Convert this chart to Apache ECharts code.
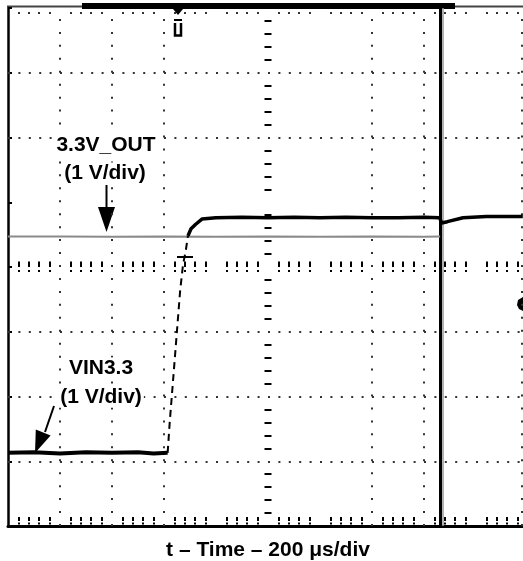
<!DOCTYPE html>
<html><head><meta charset="utf-8">
<script src="https://cdn.jsdelivr.net/npm/echarts@6/dist/echarts.min.js"></script>
<style>html,body{margin:0;padding:0;background:#fff}#c{width:523px;height:561px}</style>
</head><body><div id="c"></div>
<script>
// Time in divisions from screen centre (200 us/div), voltage in divisions from centre (1 V/div)
const vinLow  = [[-5,-2.87],[-4.5,-2.86],[-4,-2.88],[-3.5,-2.86],[-3,-2.87],[-2.5,-2.86],[-2.2,-2.88],[-1.93,-2.87]];
const vinEdge = [[-1.93,-2.87],[-1.89,-2.4],[-1.79,-1.39],[-1.69,-0.37],[-1.635,0.03],[-1.58,0.26],[-1.54,0.48]];
const vinHigh = [[-1.54,0.48],[-1.48,0.59],[-1.39,0.66],[-1.27,0.74],[-1.0,0.76],[-0.5,0.77],[0,0.76],[0.5,0.77],[1.0,0.76],[1.5,0.77],[2.0,0.76],[2.5,0.76],[3.0,0.77],[3.3,0.76],[3.34,0.68],[3.45,0.70],[3.75,0.76],[4.2,0.78],[4.9,0.78]];
const out33   = [[-5,0.47],[-4,0.47],[-3,0.468],[-2,0.47],[-1,0.468],[0,0.47],[1,0.468],[2,0.47],[3,0.468],[3.31,0.47]];
const gridCols = [-4,-3,-2,2,3,4.88];
const gridRows = [-3,-2,-1,2,3];
const cursorT = 3.31;
const xRange = {min:-5, max:5, interval:1};
const yRange = {min:-4, max:4, interval:1};
const xTitle = 't \u2013 Time \u2013 200 \u03BCs/div';
const outLabel = ['3.3V_OUT','(1 V/div)'];
const vinLabel = ['VIN3.3','(1 V/div)'];

const FONT = '"Liberation Sans", Arial, Helvetica, sans-serif';
const chart = echarts.init(document.getElementById('c'), null, {renderer:'canvas'});

function centreX(pos, dash){
  return Object.assign({type:'value', position:pos, splitLine:{show:false}, axisLabel:{show:false},
    axisLine:{show:false, onZero:true, onZeroAxisIndex:0}, axisTick:{show:false},
    minorTick:{show:true, splitNumber:5, length:5.5, lineStyle:{color:'#000', width:2, type:dash}}}, xRange);
}
function centreY(pos){
  return Object.assign({type:'value', position:pos, splitLine:{show:false}, axisLabel:{show:false},
    axisLine:{show:false, onZero:true, onZeroAxisIndex:0}, axisTick:{show:false},
    minorTick:{show:true, splitNumber:5, length:3.5, lineStyle:{color:'#000', width:2}}}, yRange);
}

const markData = [];
gridCols.forEach(v => markData.push({xAxis:v, lineStyle:{color:'#333', width:2, type:[2,10.95]}}));
gridRows.forEach(v => markData.push({yAxis:v, lineStyle:{color:'#333', width:2, type:[2,8.4]}}));
markData.push({xAxis:cursorT, lineStyle:{color:'#000', width:3, type:'solid'}});
markData.push({xAxis:cursorT+0.055, lineStyle:{color:'#999', width:1.5, type:'solid'}});

const labelStyle = t => ({text:t, font:'bold 21px '+FONT, fill:'#000', align:'center', verticalAlign:'middle',
  backgroundColor:'#fff', padding:[0,2]});

const option = {
  animation:false,
  backgroundColor:'#fff',
  grid:{left:8, top:8, width:520, height:518, outerBoundsMode:'none', containLabel:false},
  xAxis:[
    centreX('bottom', [0,3,2,10]),
    centreX('top', 'solid'),
    Object.assign({type:'value', position:'bottom', splitLine:{show:false}, axisLabel:{show:false},
      axisLine:{show:true, onZero:false, lineStyle:{color:'#000', width:3}}, axisTick:{show:false, inside:true},
      minorTick:{show:true, splitNumber:5, length:9, lineStyle:{color:'#000', width:2, type:[0,1.5,2,1.5,4,20]}},
      name:xTitle, nameLocation:'middle', nameGap:14,
      nameTextStyle:{fontFamily:FONT, fontWeight:'bold', fontSize:21, color:'#000'}}, xRange),
    Object.assign({type:'value', position:'top', splitLine:{show:false}, axisLabel:{show:false},
      axisLine:{show:false, onZero:false}, axisTick:{show:false, inside:true},
      minorTick:{show:true, splitNumber:5, length:7, lineStyle:{color:'#333', width:2, type:[0,4,2,30]}}}, xRange)
  ],
  yAxis:[
    centreY('left'),
    centreY('right'),
    Object.assign({type:'value', position:'left', splitLine:{show:false}, axisLabel:{show:false},
      axisLine:{show:true, onZero:false, lineStyle:{color:'#000', width:2.5}},
      axisTick:{show:true, inside:true, length:4, lineStyle:{color:'#000', width:2}}}, yRange)
  ],
  series:[
    {type:'line', name:'3.3V_OUT', data:out33, xAxisIndex:0, yAxisIndex:0, showSymbol:false, symbol:'none',
      lineStyle:{color:'#8a8a8a', width:2}, z:3,
      markLine:{silent:true, symbol:'none', label:{show:false}, animation:false, data:markData, z:1}},
    {type:'line', name:'VIN3.3 low', data:vinLow, showSymbol:false, symbol:'none', lineStyle:{color:'#000', width:4}, z:4},
    {type:'line', name:'VIN3.3 edge', data:vinEdge, showSymbol:false, symbol:'none', lineStyle:{color:'#000', width:2, type:[7,5]}, z:4},
    {type:'line', name:'VIN3.3 high', data:vinHigh, showSymbol:false, symbol:'none', lineStyle:{color:'#000', width:3.5}, z:4}
  ],
  graphic:[
    {type:'rect', shape:{x:7, y:5.5, width:520, height:2}, style:{fill:'#444'}, silent:true},
    {type:'rect', shape:{x:82, y:3, width:373, height:6}, style:{fill:'#000'}, silent:true},
    {type:'polygon', shape:{points:[[173,9],[183,9],[178,15]]}, style:{fill:'#000'}, silent:true},
    {type:'rect', shape:{x:174, y:19, width:8, height:2}, style:{fill:'#000'}, silent:true},
    {type:'polyline', shape:{points:[[175,23],[175,35.5],[181,35.5],[181,23]]}, style:{stroke:'#000', lineWidth:2.5, fill:null}, silent:true},
    {type:'line', shape:{x1:177, y1:257, x2:193, y2:257}, style:{stroke:'#000', lineWidth:2}, silent:true},
    {type:'polygon', shape:{points:[[523,297],[518,300],[517,305],[519,309],[523,311]]}, style:{fill:'#000'}, silent:true},
    {type:'text', x:106, y:145, z:10, style:labelStyle(outLabel[0])},
    {type:'text', x:105, y:173, z:10, style:labelStyle(outLabel[1])},
    {type:'line', shape:{x1:106.5, y1:185, x2:106.5, y2:209}, style:{stroke:'#000', lineWidth:2}},
    {type:'polygon', shape:{points:[[98,207],[115,207],[106.5,232]]}, style:{fill:'#000'}},
    {type:'text', x:101, y:368, z:10, style:labelStyle(vinLabel[0])},
    {type:'text', x:101, y:397, z:10, style:labelStyle(vinLabel[1])},
    {type:'line', shape:{x1:54, y1:406, x2:45, y2:432}, style:{stroke:'#000', lineWidth:2}},
    {type:'polygon', shape:{points:[[50.6,435.6],[35.8,429.6],[35,453]]}, style:{fill:'#000'}}
  ]
};
chart.setOption(option);
</script></body></html>
